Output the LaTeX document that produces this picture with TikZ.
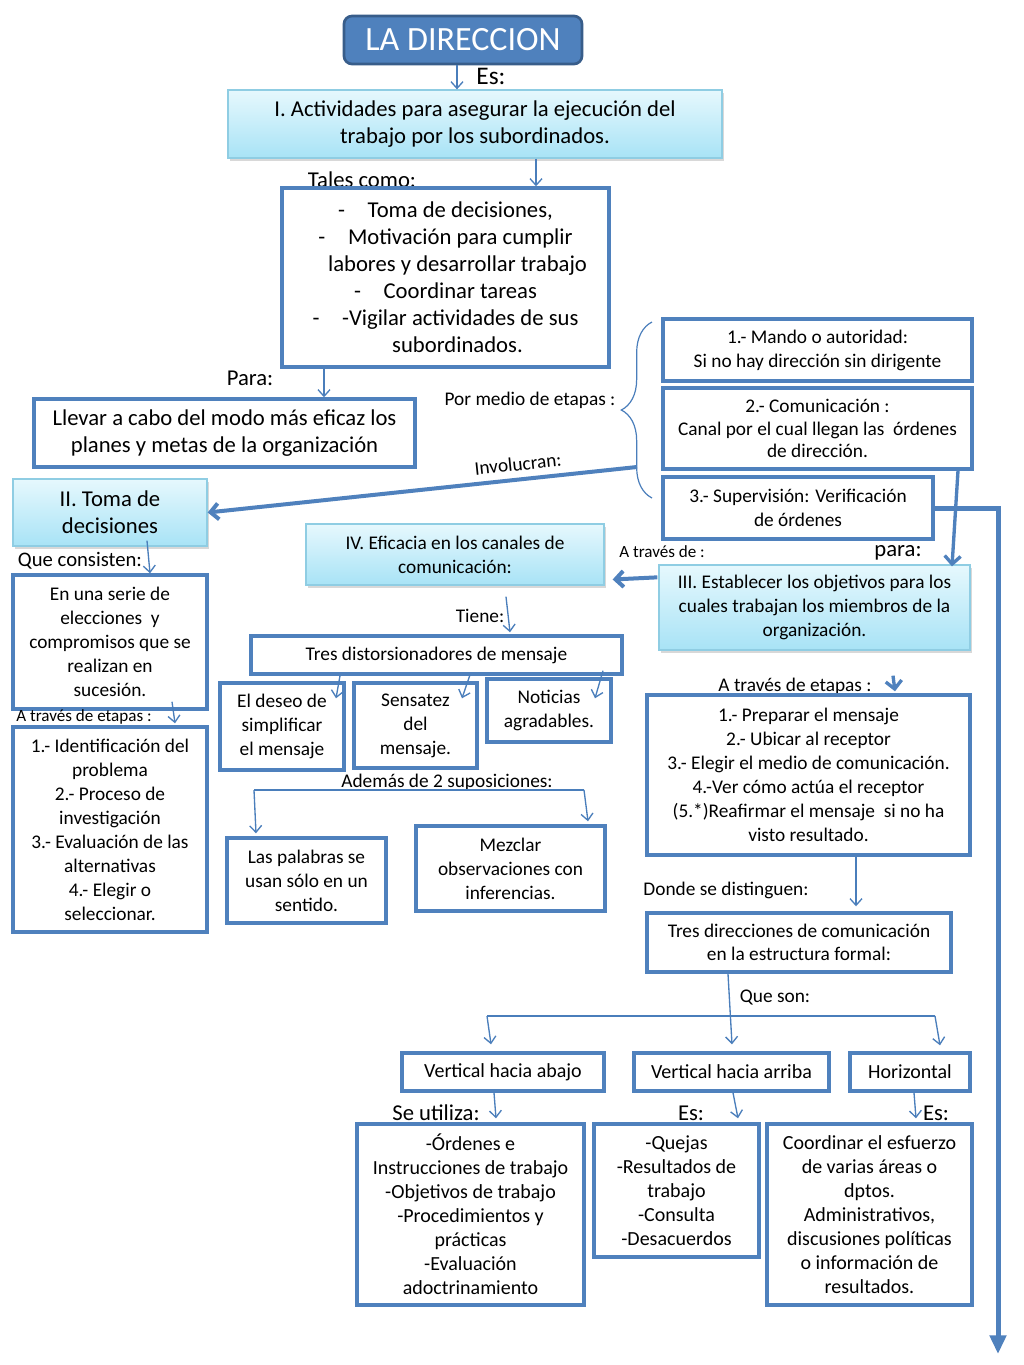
\documentclass[tikz,border=0pt]{standalone}
\usepackage{fontspec}
\setmainfont{Carlito}
\usetikzlibrary{arrows.meta,calc,shadows,decorations.pathreplacing}
\definecolor{boxblue}{HTML}{4F81BD}
\definecolor{linkblue}{HTML}{4A7EBB}
\definecolor{titleedge}{HTML}{385D8A}
\definecolor{cyantop}{HTML}{E6F8FD}
\definecolor{cyanbot}{HTML}{A8E3F6}
\definecolor{cyanline}{HTML}{8FCDE3}
\newcommand{\ftitle}{\fontsize{25.5}{28}\selectfont}
\newcommand{\fbig}{\fontsize{17}{20.25}\selectfont}
\newcommand{\fmid}{\fontsize{14.5}{18}\selectfont}
\newcommand{\fmidtight}{\fontsize{14.5}{17}\selectfont}
\newcommand{\fbottom}{\fontsize{15}{18}\selectfont}
\newcommand{\fsmall}{\fontsize{12.8}{15}\selectfont}

\begin{document}
\begin{tikzpicture}[x=0.75pt, y=-0.75pt,
  wh/.style 2 args={minimum width=#1*0.75pt, minimum height=#2*0.75pt},
  box/.style={draw=boxblue, line width=2.6pt, fill=white, inner sep=0pt, align=center, font=\fmid},
  cyanbox/.style={draw=cyanline, line width=1pt, top color=cyantop, bottom color=cyanbot,
    inner sep=0pt, align=center, font=\fmid,
    drop shadow={shadow xshift=1.5pt, shadow yshift=-2pt, opacity=0.3}},
  lbl/.style={inner sep=0pt, font=\fmid},
  link/.style={-{Straight Barb[length=5pt,width=9pt]}, draw=linkblue, line width=1pt},
  fat/.style={-{Straight Barb[length=6pt,width=12pt]}, draw=boxblue, line width=3pt}]
  \useasboundingbox[fill=white] (0,0) rectangle (1024,1365);
  % Title and first level
  \node[fill=boxblue, draw=titleedge, line width=2pt, rounded corners=6pt, wh={238}{48},
    text=white, font=\ftitle, inner sep=0pt] (direc) at (463,40) {LA DIRECCION};
  \node[lbl, font=\fontsize{19}{22}\selectfont] (es) at (491,76) {Es:};
  \node[cyanbox, wh={494}{68}, font=\fbig] (activ) at (475,124)
    {I. Actividades para asegurar la ejecución del\\ trabajo por los subordinados.};
  \node[lbl, font=\fbig] (tales) at (362,180) {Tales como:};
  \node[box, wh={327}{179}, font=\fbig] (tareas) at (445.5,277.5)
    {-\quad Toma de decisiones,\\ -\quad Motivación para cumplir\\ \hspace*{18pt}labores y desarrollar trabajo\\
     -\quad Coordinar tareas\\ -\quad -Vigilar actividades de sus\\ \hspace*{18pt}subordinados.};
  \node[lbl, font=\fbig] (para) at (250,378) {Para:};
  \node[box, wh={381}{68}, font=\fbig] (llevar) at (224.5,433)
    {Llevar a cabo del modo más eficaz los\\ planes y metas de la organización};
  % Stages on the right
  \node[lbl] (medio) at (530,400) {Por medio de etapas :};
  \draw[linkblue, line width=0.9pt, decorate, decoration={brace, amplitude=23pt}] (652,498) -- (652,322);
  \node[box, wh={309}{62}] (mando) at (817.5,350) {1.- Mando o autoridad:\\ Si no hay dirección sin dirigente};
  \node[box, wh={309}{81}, font=\fmidtight] (comun) at (817.5,428.5)
    {2.- Comunicación :\\ Canal por el cual llegan las \ órdenes\\ de dirección.};
  \node[box, wh={270}{62}] (superv) at (798,508) {3.- Supervisión: Verificación\\ de órdenes};
  % Toma de decisiones
  \node[cyanbox, wh={194}{67}, font=\fbig] (toma) at (110,512.5) {II. Toma de\\ decisiones};
  \coordinate (brc) at (637,467);
  \node[lbl, rotate=6] (invol) at (518,464) {Involucran:};
  \node[lbl, font=\fontsize{15.5}{18}\selectfont] (consisten) at (80,561) {Que consisten:};
  \node[box, wh={194}{134}] (serie) at (110,642)
    {En una serie de\\ elecciones \ y\\ compromisos que se\\ realizan en\\ sucesión.};
  \node[lbl, font=\fsmall] (atrav1) at (84,717) {A través de etapas :};
  \node[box, wh={194}{205}] (pasos) at (110,829.5)
    {1.- Identificación del\\ problema\\ 2.- Proceso de\\ investigación\\ 3.- Evaluación de las\\
     alternativas\\ 4.- Elegir o\\ seleccionar.};
  % Eficacia
  \node[cyanbox, wh={298}{61}] (eficacia) at (455,554.5) {IV. Eficacia en los canales de\\ comunicación:};
  \node[cyanbox, wh={311}{85}] (objet) at (814.5,607.5)
    {III. Establecer los objetivos para los\\ cuales trabajan los miembros de la\\ organización.};
  \node[lbl, font=\fbig] (paraobj) at (898,553) {para:};
  \node[lbl, font=\fsmall] (atrav2) at (662,552) {A través de :};
  \node[lbl] (tiene) at (480,616) {Tiene:};
  \node[box, wh={371}{38}] (distor) at (436.5,655) {Tres distorsionadores de mensaje};
  \node[box, wh={124}{87}] (deseo) at (282,726.5) {El deseo de\\ simplificar\\ el mensaje};
  \node[box, wh={123}{85}] (sensatez) at (415.5,725.5) {Sensatez\\ del\\ mensaje.};
  \node[box, wh={124}{63}] (noticias) at (549,710.5) {Noticias\\ agradables.};
  \node[lbl] (ademas) at (447,782) {Además de 2 suposiciones:};
  \node[box, wh={159}{85}] (palabras) at (306.5,880.5) {Las palabras se\\ usan sólo en un\\ sentido.};
  \node[box, wh={189}{85}] (mezclar) at (510.5,868.5) {Mezclar\\ observaciones con\\ inferencias.};
  % Mensaje and directions
  \node[lbl] (atrav3) at (795,686) {A través de etapas :};
  \node[box, wh={323}{160}] (mensaje) at (808.5,775)
    {1.- Preparar el mensaje\\ 2.- Ubicar al receptor\\ 3.- Elegir el medio de comunicación.\\
     4.-Ver cómo actúa el receptor\\ (5.*)Reafirmar el mensaje \ si no ha\\ visto resultado.};
  \node[lbl] (donde) at (726,890) {Donde se distinguen:};
  \node[box, wh={304}{59}, font=\fmidtight] (tresdir) at (799,942.5)
    {Tres direcciones de comunicación\\ en la estructura formal:};
  \node[lbl] (queson) at (775,997) {Que son:};
  \node[box, wh={202}{38}, font=\fbottom] (abajo) at (503,1072) {Vertical hacia abajo};
  \node[box, wh={195}{38}, font=\fbottom] (arriba) at (731.5,1072) {Vertical hacia arriba};
  \node[box, wh={120}{38}, font=\fbottom] (horiz) at (910,1072) {Horizontal};
  \node[lbl, font=\fbig] (utiliza) at (436,1113) {Se utiliza:};
  \node[lbl, font=\fbig] (es2) at (691,1113) {Es:};
  \node[lbl, font=\fbig] (es3) at (936,1113) {Es:};
  \node[box, wh={227}{181}, font=\fbottom] (ordenes) at (470.5,1214.5)
    {-Órdenes e\\ Instrucciones de trabajo\\ -Objetivos de trabajo\\ -Procedimientos y\\
     prácticas\\ -Evaluación\\ adoctrinamiento};
  \node[box, wh={165}{133}, font=\fbottom] (quejas) at (676.5,1190.5)
    {-Quejas\\ -Resultados de\\ trabajo\\ -Consulta\\ -Desacuerdos};
  \node[box, wh={205}{181}, font=\fbottom] (coordinar) at (869.5,1214.5)
    {Coordinar el esfuerzo\\ de varias áreas o\\ dptos.\\ Administrativos,\\
     discusiones políticas\\ o información de\\ resultados.};
  % Connectors
  \draw[link] (direc.south -| 457,0) -- (activ.north -| 457,0);
  \draw[link] (activ.south -| 536,0) -- (tareas.north -| 536,0);
  \draw[link] (tareas.south -| 324,0) -- (llevar.north -| 324,0);
  \draw[fat] (brc) -- (toma.east);
  \draw[link] ($(toma.south)+(37,-6)$) -- ($(serie.north)+(40,0)$);
  \draw[link] ($(serie.south)+(62,-9)$) -- ($(pasos.north)+(65,-2)$);
  \draw[fat] ($(objet.north west)+(-1,13)$) -- ($(eficacia.east)+(8,25)$);
  \draw[fat, line width=2.5pt] ($(comun.south)+(140.5,0)$) -- ($(objet.north)+(137.5,2)$);
  \coordinate (corner) at (998,508);
  \coordinate (fin) at (998,1354);
  \draw[boxblue, line width=3.75pt, -{Triangle[length=14pt,width=12pt]}] (superv.east) -- (corner) -- (fin);
  \draw[link] ($(eficacia.south)+(51,11)$) -- ($(distor.north)+(73.5,-2)$);
  \draw[link] ($(distor.south)+(-96.5,0)$) -- ($(deseo.north)+(54,17)$);
  \draw[link] ($(distor.south)+(33.5,-1)$) -- ($(sensatez.north)+(46.5,17)$);
  \draw[link] ($(distor.south)+(166.5,-5)$) -- ($(noticias.north)+(46,21)$);
  \coordinate (supL) at (254,790);
  \coordinate (supR) at (584,790);
  \draw[linkblue, line width=1pt] (supL) -- (supR);
  \draw[link] (supL) -- ($(palabras.north)+(-50.5,-3)$);
  \draw[link] (supR) -- ($(mezclar.north)+(77.5,-3)$);
  \draw[fat, line width=2.5pt] ($(objet.south)+(78.5,25)$) -- ($(mensaje.north)+(86.5,-2)$);
  \draw[link] ($(mensaje.south)+(47.5,0)$) -- ($(tresdir.north)+(57,-5)$);
  \coordinate (dirL) at (487,1016);
  \coordinate (dirR) at (935,1016);
  \draw[linkblue, line width=1pt] (dirL) -- (dirR);
  \draw[link] ($(tresdir.south)+(-71,0)$) -- ($(arriba.north)+(0.5,-7)$);
  \draw[link] (dirL) -- ($(abajo.north)+(-12,-7)$);
  \draw[link] (dirR) -- ($(horiz.north)+(30,-6)$);
  \draw[link] ($(abajo.south)+(-9,0)$) -- ($(ordenes.north)+(25.5,-4)$);
  \draw[link] ($(arriba.south)+(1.5,0)$) -- ($(quejas.north)+(61.5,-4)$);
  \draw[link] ($(horiz.south)+(4,0)$) -- ($(coordinar.north)+(46.5,-4)$);
\end{tikzpicture}
\end{document}
